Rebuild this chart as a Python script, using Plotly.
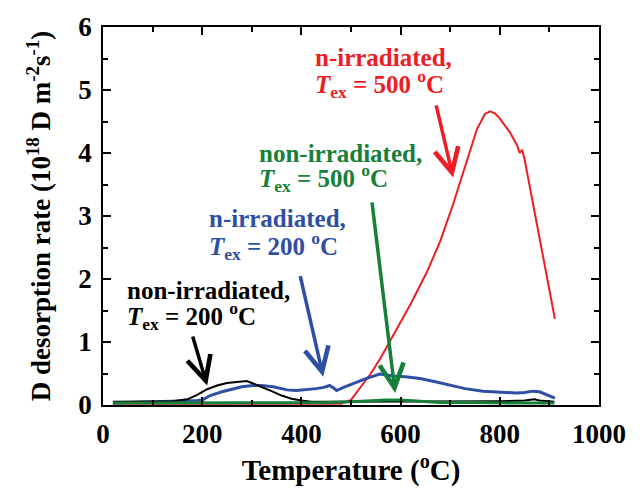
import plotly.graph_objects as go

# ---- data ----
T_black = [20, 60, 100, 140, 170, 190, 210, 230, 250, 270, 290, 300, 320, 340, 360, 380, 400, 420, 450, 500, 600, 700, 800, 850, 870, 880, 900, 910]
D_black = [0.05, 0.05, 0.05, 0.06, 0.09, 0.16, 0.25, 0.31, 0.35, 0.36, 0.38, 0.35, 0.29, 0.22, 0.15, 0.10, 0.07, 0.05, 0.05, 0.05, 0.05, 0.06, 0.06, 0.07, 0.09, 0.07, 0.06, 0.05]

T_blue = [20, 60, 100, 140, 170, 190, 200, 216, 240, 262, 280, 302, 320, 343, 371, 390, 411, 430, 445, 457, 465, 471, 485, 504, 530, 558, 585, 610, 639, 670, 700, 730, 766, 800, 834, 850, 867, 880, 895, 911]
D_blue = [0.03, 0.04, 0.05, 0.05, 0.06, 0.07, 0.08, 0.15, 0.21, 0.26, 0.29, 0.31, 0.31, 0.29, 0.24, 0.23, 0.24, 0.26, 0.28, 0.31, 0.27, 0.23, 0.28, 0.34, 0.42, 0.49, 0.46, 0.45, 0.42, 0.37, 0.31, 0.26, 0.22, 0.20, 0.19, 0.20, 0.22, 0.21, 0.16, 0.11]

T_red = [20, 200, 400, 480, 500, 520, 540, 560, 573, 593, 620, 653, 680, 706, 730, 754, 770, 780, 790, 800, 821, 835, 840, 845, 850, 861, 875, 888, 900, 911]
D_red = [0.02, 0.02, 0.02, 0.02, 0.08, 0.30, 0.50, 0.75, 0.93, 1.22, 1.60, 2.11, 2.60, 3.19, 3.77, 4.38, 4.62, 4.66, 4.63, 4.55, 4.32, 4.12, 4.00, 4.05, 3.90, 3.45, 2.90, 2.37, 1.85, 1.37]

T_green = [20, 100, 200, 300, 400, 450, 500, 540, 570, 600, 640, 680, 750, 800, 850, 910]
D_green = [0.03, 0.03, 0.03, 0.03, 0.03, 0.04, 0.05, 0.07, 0.08, 0.08, 0.06, 0.04, 0.04, 0.03, 0.03, 0.03]

x_ticks = [0, 200, 400, 600, 800, 1000]
y_ticks = [0, 1, 2, 3, 4, 5, 6]

RED = "#ee1c25"
BLUE = "#2e4fa3"
GREEN = "#16803a"
BLACK = "#000000"
FONT = "Liberation Serif"

fig = go.Figure()
fig.add_trace(go.Scatter(x=T_red, y=D_red, mode="lines", line=dict(color=RED, width=2)))
fig.add_trace(go.Scatter(x=T_blue, y=D_blue, mode="lines", line=dict(color=BLUE, width=3)))
fig.add_trace(go.Scatter(x=T_black, y=D_black, mode="lines", line=dict(color=BLACK, width=2)))
fig.add_trace(go.Scatter(x=T_green, y=D_green, mode="lines", line=dict(color=GREEN, width=3)))

labels = [
    # (x, y line1, y line2, color, Tex value)
    (423, 5.51, 5.09, RED, "500"),
    (310, 4.00, 3.61, GREEN, "500"),
    (210, 2.96, 2.53, BLUE, "200"),
    (44, 1.81, 1.42, BLACK, "200"),
]
names = ["n-irradiated,", "non-irradiated,", "n-irradiated,", "non-irradiated,"]
for (x, y1, y2, c, tv), nm in zip(labels, names):
    fig.add_annotation(x=x, y=y1, xref="x", yref="y", text="<b>" + nm + "</b>",
                       showarrow=False, xanchor="left", yanchor="middle",
                       font=dict(family=FONT, size=25, color=c))
    fig.add_annotation(x=x, y=y2, xref="x", yref="y",
                       text="<b><i>T</i><sub>ex</sub> = " + tv + " <sup>o</sup>C</b>",
                       showarrow=False, xanchor="left", yanchor="middle",
                       font=dict(family=FONT, size=25, color=c))

arrows = [
    # (tail x, tail y, head x, head y, color)
    (671, 4.78, 706, 3.61, RED),
    (542, 3.24, 589, 0.19, GREEN),
    (397, 2.07, 444, 0.45, BLUE),
    (180, 1.11, 210, 0.31, BLACK),
]
for ax_, ay_, hx, hy, c in arrows:
    fig.add_annotation(x=hx, y=hy, ax=ax_, ay=ay_, xref="x", yref="y", axref="x", ayref="y",
                       text="", showarrow=True, arrowhead=5, arrowsize=1.35, arrowwidth=3.5,
                       arrowcolor=c, standoff=0, startstandoff=0)

axis_common = dict(
    showline=True, linecolor="black", linewidth=1.5, mirror="ticks",
    ticks="inside", ticklen=8, tickwidth=1.5, tickcolor="black",
    showgrid=False, zeroline=False,
    tickfont=dict(family=FONT, size=27, color="black", weight="bold"),
)
fig.update_xaxes(range=[0, 1000], tickvals=x_ticks, ticktext=[f"<b>{v}</b>" for v in x_ticks],
                 minor=dict(ticks="inside", ticklen=5, tickwidth=1.5, dtick=100, tick0=0, tickcolor="black"),
                 title=dict(text="<b>Temperature (<sup>o</sup>C)</b>", font=dict(family=FONT, size=29, color="black"),
                            standoff=12),
                 ticklabelstandoff=4, **axis_common)
fig.update_yaxes(range=[0, 6], tickvals=y_ticks, ticktext=[f"<b>{v}</b>" for v in y_ticks],
                 minor=dict(ticks="inside", ticklen=5, tickwidth=1.5, dtick=0.5, tick0=0, tickcolor="black"),
                 title=dict(text="<b>D desorption rate (10<sup>18</sup> D m<sup>-2</sup>s<sup>-1</sup>)</b>",
                            font=dict(family=FONT, size=27, color="black"), standoff=20),
                 ticklabelstandoff=4, **axis_common)

fig.update_layout(
    width=642, height=493,
    margin=dict(l=103, r=43, t=18, b=86),
    paper_bgcolor="white", plot_bgcolor="white",
    showlegend=False,
)
fig.write_html("out.html")
